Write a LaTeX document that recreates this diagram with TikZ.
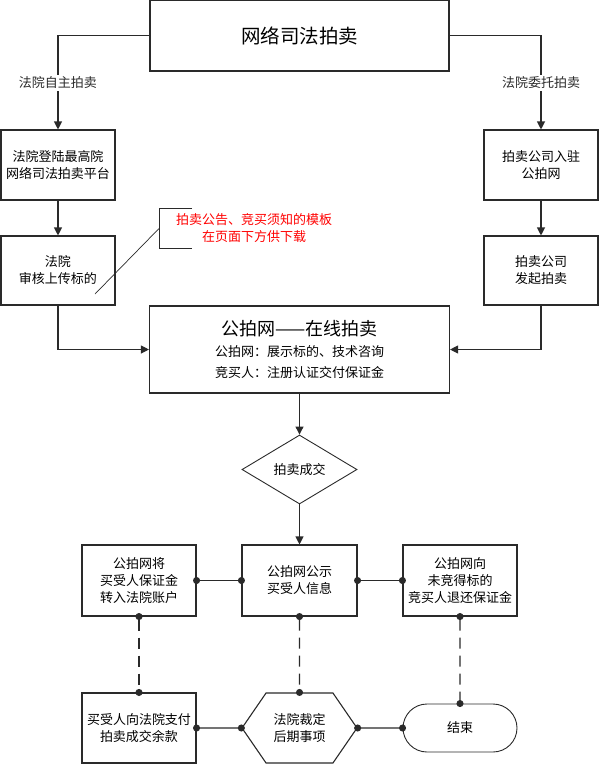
\documentclass[tikz,border=0pt]{standalone}
\usepackage{fontspec}
\setmainfont{Noto Sans CJK SC}
\usepackage{tikz}
\usetikzlibrary{arrows.meta,positioning,shapes.geometric,shapes.symbols,shapes.misc}
\definecolor{lngray}{HTML}{2A2A2A}
\definecolor{notered}{HTML}{FF0000}

\begin{document}
\begin{tikzpicture}[x=1pt,y=-1pt,font=\fontsize{13}{17}\selectfont,>={Triangle[length=8pt,width=8pt]}]
    \tikzstyle{box}=[draw=lngray,line width=1.1pt,minimum width=114pt,minimum height=70pt,align=center,inner sep=0pt]
    \tikzstyle{dec}=[draw=lngray,line width=0.9pt,diamond,minimum width=115pt,minimum height=69pt,inner sep=0pt]
    \tikzstyle{hexa}=[draw=lngray,line width=1.1pt,signal,signal to=west and east,signal pointer angle=111,minimum width=115pt,minimum height=70pt,align=center,inner sep=0pt]
    \tikzstyle{term}=[draw=lngray,line width=0.9pt,rounded rectangle,minimum width=114pt,minimum height=48pt,inner sep=0pt]
    \tikzstyle{lbl}=[fill=white,inner sep=2pt]
    \tikzstyle{conn}=[lngray,line width=1.1pt]
    \tikzstyle{dotline}=[lngray,line width=1.1pt,{Circle[length=7pt]}-{Circle[length=7pt]},shorten <=-3.5pt,shorten >=-3.5pt]
    \tikzstyle{dashline}=[dotline,dash pattern=on 11pt off 7pt]
    \useasboundingbox (0,0) rectangle (599,764);
    \node[box,minimum width=299pt,minimum height=70.5pt,font=\fontsize{19.5}{24}\selectfont] (top) at (299.5,35.75) {网络司法拍卖};
    \node[box] (court1) at (58,165) {法院登陆最高院\\网络司法拍卖平台};
    \node[box,minimum height=69pt] (court2) at (58,270.5) {法院\\审核上传标的};
    \node[box] (firm1) at (541,165) {拍卖公司入驻\\公拍网};
    \node[box,minimum height=69pt] (firm2) at (541,270.5) {拍卖公司\\发起拍卖};
    \node[box,minimum width=300pt,minimum height=87pt,font=\fontsize{13}{21}\selectfont] (online) at (299.5,349.5)
      {{\fontsize{18}{22}\selectfont 公拍网——在线拍卖}\\公拍网：展示标的、技术咨询\\竞买人：注册认证交付保证金};
    \node[dec] (deal) at (299.5,469.5) {拍卖成交};
    \node[box,minimum height=71pt] (transfer) at (139,580.5) {公拍网将\\买受人保证金\\转入法院账户};
    \node[box,minimum width=115pt,minimum height=71pt] (notice) at (299.5,580.5) {公拍网公示\\买受人信息};
    \node[box,minimum height=71pt] (refund) at (460,580.5) {公拍网向\\未竞得标的\\竞买人退还保证金};
    \node[box] (pay) at (139,728) {买受人向法院支付\\拍卖成交余款};
    \node[hexa] (ruling) at (299.5,728) {法院裁定\\后期事项};
    \node[term] (finish) at (460,728) {结束};
    % note on the template download
    \node[anchor=west,text=notered,align=center,inner xsep=17pt,minimum height=39pt] (note) at (159,228.5) {拍卖公告、竞买须知的模板\\在页面下方供下载};
    \coordinate (hint) at (95,294);
    \draw[lngray,line width=0.9pt] ([xshift=33pt]note.north west) -- (note.north west) -- (note.south west) -- ([xshift=33pt]note.south west);
    \draw[lngray,line width=0.7pt] (note.west) -- (hint);
    \draw[conn,->] (top.west) -| node[lbl,pos=0.75] {法院自主拍卖} (court1.north);
    \draw[conn,->] (top.east) -| node[lbl,pos=0.75] {法院委托拍卖} (firm1.north);
    \draw[conn,->] (court1) -- (court2);
    \draw[conn,->] (firm1) -- (firm2);
    \draw[conn,->] (court2.south) |- (online.west);
    \draw[conn,->] (firm2.south) |- (online.east);
    \draw[conn,->] (online) -- (deal);
    \draw[conn,->] (deal) -- (notice);
    \draw[dotline] (transfer) -- (notice);
    \draw[dotline] (notice) -- (refund);
    \draw[dashline] (transfer) -- (pay);
    \draw[dashline] (notice) -- (ruling);
    \draw[dashline] (refund) -- (finish);
    \draw[dotline] (pay) -- (ruling);
    \draw[dotline] (ruling) -- (finish);
\end{tikzpicture}
\end{document}
